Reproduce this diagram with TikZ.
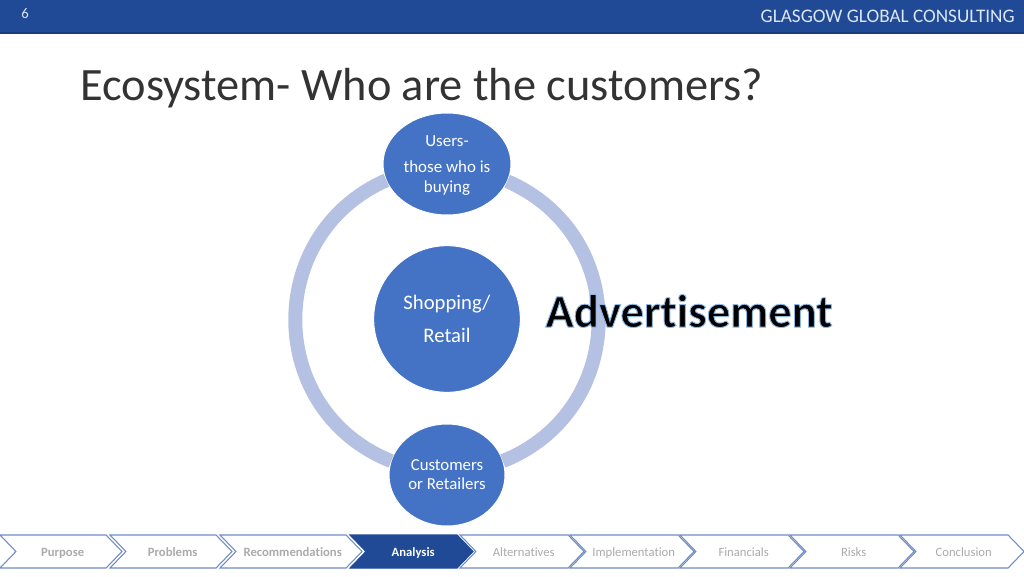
\documentclass[tikz,border=0pt]{standalone}
\usepackage{fontspec}
\setmainfont{Carlito}[Ligatures=NoCommon]
\usetikzlibrary{shapes.geometric}
\usetikzlibrary{shapes.symbols}
\definecolor{barblue}{HTML}{204A96}
\definecolor{barline}{HTML}{1A3C7C}
\definecolor{bartext}{HTML}{DCE6F5}
\definecolor{bubble}{HTML}{4472C4}
\definecolor{ringblue}{HTML}{B4C1E2}
\definecolor{navline}{HTML}{6F8CC4}
\definecolor{navtext}{HTML}{ABABAB}
\definecolor{titletext}{HTML}{333333}
\tikzset{
  bubblenode/.style={ellipse,fill=bubble,draw=white,line width=.75pt,text=white,align=center,inner sep=0pt,outer sep=0pt},
  ringline/.style={ringblue,line width=10.5pt},
  navstep/.style={signal,signal to=east,signal from=west,signal pointer angle=92,draw=navline,line width=.8pt,fill=white,minimum height=24.75pt,inner sep=0pt,outer sep=0pt,text height=8.5pt,text depth=1.3pt,font=\fontsize{9.5}{10}\selectfont,text=navtext},
  navdone/.style={navstep,font=\fontsize{9.5}{10}\selectfont\bfseries},
  navhere/.style={navstep,fill=barblue,draw=barblue,text=white,font=\fontsize{9.5}{10}\selectfont\bfseries}
}
\begin{document}
\begin{tikzpicture}[x=.75pt,y=.75pt]
\useasboundingbox (0,0) rectangle (1024,576);
\fill[barblue] (0,543) rectangle (1024,576);
\draw[barline,line width=1pt] (0,543) -- (1024,543);
\path (25,562) node[text=bartext,font=\fontsize{11}{12}\selectfont] (pagenum) {6};
\path (1015,560) node[anchor=east,inner sep=0pt,text=bartext,font=\fontsize{14.4}{16}\selectfont] (company) {GLASGOW GLOBAL CONSULTING};
\path (80,488) node[anchor=west,inner sep=0pt,text=titletext,font=\fontsize{34.8}{40}\selectfont] (title) {Ecosystem- Who are the customers?};
\path (447,412) node[bubblenode,minimum width=96pt,minimum height=76.5pt,font=\fontsize{12.7}{14.5}\selectfont] (users) {\rule{0pt}{10.2pt}Users-\\[5pt]those who is\\buying};
\path (447,257) node[bubblenode,minimum width=110pt,minimum height=110pt,font=\fontsize{15.5}{25}\selectfont] (shopping) {Shopping/\\Retail};
\path (447,101) node[bubblenode,minimum width=87pt,minimum height=76.5pt,font=\fontsize{12.6}{14.2}\selectfont] (customers) {Customers\\or Retailers};
\draw[ringline] (users.195.6) .. controls (262.5,340.8) and (265.8,164.9) .. (customers.166);
\draw[ringline] (users.344.4) .. controls (631.5,340.8) and (628.2,164.9) .. (customers.14);
\path (689,265) node[inner sep=0pt,font=\fontsize{35}{40}\selectfont\bfseries,text=black] (advert) {\special{pdf:code q 2 Tr 0.7 w 0.55 0.72 0.9 RG}Advertisement\special{pdf:code Q}};
\foreach \navname/\navx/\navw/\navstyle/\navlabel in {
    purpose/61/122/navdone/Purpose,
    problems/171/122/navdone/Problems,
    recommend/291/142/navdone/Recommendations,
    analysis/411.5/123/navhere/Analysis,
    alternatives/522/124/navstep/Alternatives,
    implement/632/124/navstep/Implementation,
    financials/742/124/navstep/Financials,
    risks/852/124/navstep/Risks,
    conclusion/962/124/navstep/Conclusion}
  \path (\navx,24.5) node[\navstyle,minimum width=\navw*.75pt] (\navname) {\hspace*{2.5pt}\navlabel};
\end{tikzpicture}
\end{document}
